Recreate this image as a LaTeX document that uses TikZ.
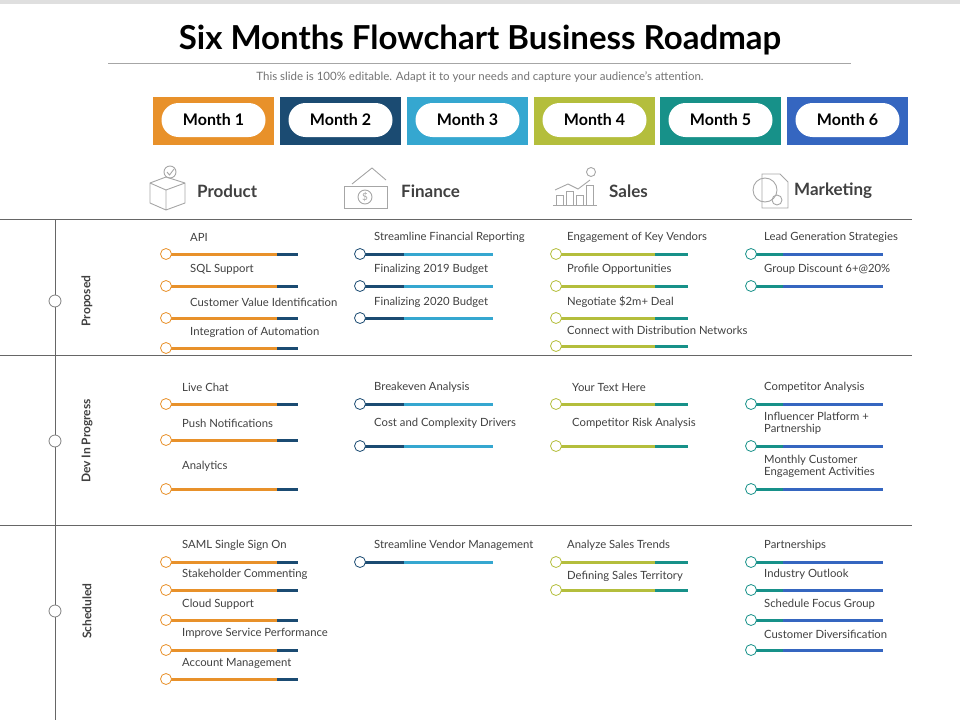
\documentclass[tikz,border=0pt]{standalone}
\usepackage{fontspec}
\setmainfont{Lato}
\definecolor{cOr}{HTML}{E8912A}
\definecolor{cNv}{HTML}{1B4B72}
\definecolor{cLb}{HTML}{35A7D0}
\definecolor{cOl}{HTML}{B4BE3C}
\definecolor{cTl}{HTML}{179189}
\definecolor{cBl}{HTML}{3566C0}
\definecolor{cTx}{HTML}{404040}
\newcommand\trk[7]{% name, cx, y, split, end, colA, colB
  \draw[#7,line width=3pt] (#4,#3) -- (#5,#3);
  \draw[#6,line width=3pt] (#2,#3) -- (#4,#3);
  \node[circle,draw=#6,fill=white,line width=0.8pt,minimum size=11pt,inner sep=0pt] (#1) at (#2,#3) {};}
\newcommand\lab[4]{\node[itm] (#1) at (#2,#3) {#4};}
\begin{document}
\begin{tikzpicture}[x=1pt,y=-1pt,
  itm/.style={anchor=west,inner sep=0pt,font=\fontsize{11.3}{12.5}\selectfont,text=cTx,align=left},
  mbox/.style={minimum width=121pt,minimum height=48pt,inner sep=0pt},
  pill/.style={rounded corners=17pt,fill=white,minimum width=104pt,minimum height=34pt,inner sep=0pt,font=\fontsize{16}{18}\selectfont\bfseries},
  cat/.style={anchor=west,inner sep=0pt,font=\fontsize{17}{19}\selectfont\bfseries,text=cTx},
  rowl/.style={rotate=90,inner sep=0pt,font=\fontsize{12}{13}\selectfont\bfseries,text=cTx},
  icon/.style={draw=gray!70,line width=0.9pt},
  sep/.style={draw=gray!80!black,line width=0.8pt}]
\useasboundingbox (0,0) rectangle (960,720);
\fill[gray!25] (0,0) rectangle (960,4);
\node[font=\fontsize{33}{36}\selectfont\bfseries,text=black] (title) at (480,40) {Six Months Flowchart Business Roadmap};
\draw[gray!70,line width=0.6pt] (108,63) -- (851,63);
\node[font=\fontsize{11.5}{13}\selectfont,text=gray!90!black] (sub) at (480,77) {This slide is 100\% editable. Adapt it to your needs and capture your audience's attention.};
% months
\foreach \i/\x/\c in {1/213.5/cOr,2/340.5/cNv,3/467.5/cLb,4/594.5/cOl,5/720.5/cTl,6/847.5/cBl}{
  \node[mbox,fill=\c] (mb\i) at (\x,121) {};
  \node[pill] (mp\i) at (\x,120) {Month \i};
}
% categories with icons
\draw[icon] (150,183) -- (150,203) -- (166,210) -- (185,203) -- (185,183) -- (166,177) -- cycle (150,183) -- (166,190) -- (185,183) (166,190) -- (166,210);
\draw[icon] (170,172) circle (6pt);
\draw[icon] (167,172) -- (169.5,175) -- (174,169);
\node[cat] (prod) at (197,191) {Product};
\draw[icon] (344,186) rectangle (387,208);
\draw[icon] (365,197) circle (7pt);
\node[gray!70,font=\fontsize{10}{10}\selectfont] (dol) at (365,197) {\$};
\draw[icon] (352,184) -- (372,168) -- (386,180);
\node[cat] (fin) at (401,191) {Finance};
\draw[icon] (553,205) -- (597,205);
\foreach \xx/\hh in {556/10,566/14,576/10,586/20}{\draw[icon] (\xx,205) -- (\xx,205-\hh) -- (\xx+7,205-\hh) -- (\xx+7,205);}
\draw[icon] (555,190) -- (568,184) -- (578,189) -- (590,180);
\draw[icon] (591,172) circle (4.5pt);
\node[cat] (sal) at (609,191) {Sales};
\draw[icon] (762,174) -- (780,174) -- (788,182) -- (788,208) -- (762,208) -- cycle;
\draw[icon] (765,190) circle (12pt);
\draw[icon] (777,200) circle (5pt);
\node[cat] (mkt) at (794,191) {Marketing};
% frame
\draw[sep] (0,219) -- (912,219);
\draw[sep] (0,355) -- (912,355);
\draw[sep] (0,525) -- (912,525);
\draw[sep] (55,219) -- (55,720);
\foreach \n/\yy in {p/301,d/441,s/611}{\node[circle,draw=gray,fill=white,line width=0.8pt,minimum size=12pt,inner sep=0pt] (rc\n) at (55,\yy) {};}
\node[rowl] (rp) at (87,301) {Proposed};
\node[rowl] (rd) at (87,441) {Dev In Progress};
\node[rowl] (rs) at (87,611) {Scheduled};
% Product column
\trk{a1}{166}{254}{277}{298}{cOr}{cNv}\lab{ta1}{190}{237}{API}
\trk{a2}{166}{286}{277}{298}{cOr}{cNv}\lab{ta2}{190}{269}{SQL Support}
\trk{a3}{166}{318}{277}{298}{cOr}{cNv}\lab{ta3}{190}{302}{Customer Value Identification}
\trk{a4}{166}{348}{277}{298}{cOr}{cNv}\lab{ta4}{190}{332}{Integration of Automation}
\trk{a5}{166}{404}{277}{298}{cOr}{cNv}\lab{ta5}{182}{387}{Live Chat}
\trk{a6}{166}{440}{277}{298}{cOr}{cNv}\lab{ta6}{182}{423}{Push Notifications}
\trk{a7}{166}{489}{277}{298}{cOr}{cNv}\lab{ta7}{182}{466}{Analytics}
\trk{a8}{166}{562}{277}{298}{cOr}{cNv}\lab{ta8}{182}{545}{SAML Single Sign On}
\trk{a9}{166}{590}{277}{298}{cOr}{cNv}\lab{ta9}{182}{574}{Stakeholder Commenting}
\trk{a10}{166}{620}{277}{298}{cOr}{cNv}\lab{ta10}{182}{604}{Cloud Support}
\trk{a11}{166}{650}{277}{298}{cOr}{cNv}\lab{ta11}{182}{633}{Improve Service Performance}
\trk{a12}{166}{679}{277}{298}{cOr}{cNv}\lab{ta12}{182}{663}{Account Management}
% Finance column
\trk{b1}{360}{254}{404}{493}{cNv}{cLb}\lab{tb1}{374}{237}{Streamline Financial Reporting}
\trk{b2}{360}{286}{404}{493}{cNv}{cLb}\lab{tb2}{374}{269}{Finalizing 2019 Budget}
\trk{b3}{360}{318}{404}{493}{cNv}{cLb}\lab{tb3}{374}{302}{Finalizing 2020 Budget}
\trk{b4}{360}{404}{404}{493}{cNv}{cLb}\lab{tb4}{374}{387}{Breakeven Analysis}
\trk{b5}{360}{446}{404}{493}{cNv}{cLb}\lab{tb5}{374}{423}{Cost and Complexity Drivers}
\trk{b6}{360}{562}{404}{493}{cNv}{cLb}\lab{tb6}{374}{545}{Streamline Vendor Management}
% Sales column
\trk{c1}{556}{254}{655}{688}{cOl}{cTl}\lab{tc1}{567}{237}{Engagement of Key Vendors}
\trk{c2}{556}{286}{655}{688}{cOl}{cTl}\lab{tc2}{567}{269}{Profile Opportunities}
\trk{c3}{556}{318}{655}{688}{cOl}{cTl}\lab{tc3}{567}{302}{Negotiate \$2m+ Deal}
\trk{c4}{556}{346}{655}{688}{cOl}{cTl}\lab{tc4}{567}{330}{Connect with Distribution Networks}
\trk{c5}{556}{404}{655}{688}{cOl}{cTl}\lab{tc5}{572}{387}{Your Text Here}
\trk{c6}{556}{446}{655}{688}{cOl}{cTl}\lab{tc6}{572}{423}{Competitor Risk Analysis}
\trk{c7}{556}{562}{655}{688}{cOl}{cTl}\lab{tc7}{567}{545}{Analyze Sales Trends}
\trk{c8}{556}{590}{655}{688}{cOl}{cTl}\lab{tc8}{567}{576}{Defining Sales Territory}
% Marketing column
\trk{d1}{751}{254}{783}{883}{cTl}{cBl}\lab{td1}{764}{237}{Lead Generation Strategies}
\trk{d2}{751}{286}{783}{883}{cTl}{cBl}\lab{td2}{764}{269}{Group Discount 6+@20\%}
\trk{d3}{751}{404}{783}{883}{cTl}{cBl}\lab{td3}{764}{387}{Competitor Analysis}
\trk{d4}{751}{446}{783}{883}{cTl}{cBl}\lab{td4}{764}{423.5}{Influencer Platform +\\Partnership}
\trk{d5}{751}{489}{783}{883}{cTl}{cBl}\lab{td5}{764}{466.5}{Monthly Customer\\Engagement Activities}
\trk{d6}{751}{562}{783}{883}{cTl}{cBl}\lab{td6}{764}{545}{Partnerships}
\trk{d7}{751}{590}{783}{883}{cTl}{cBl}\lab{td7}{764}{574}{Industry Outlook}
\trk{d8}{751}{620}{783}{883}{cTl}{cBl}\lab{td8}{764}{604}{Schedule Focus Group}
\trk{d9}{751}{650}{783}{883}{cTl}{cBl}\lab{td9}{764}{634}{Customer Diversification}
\end{tikzpicture}
\end{document}
